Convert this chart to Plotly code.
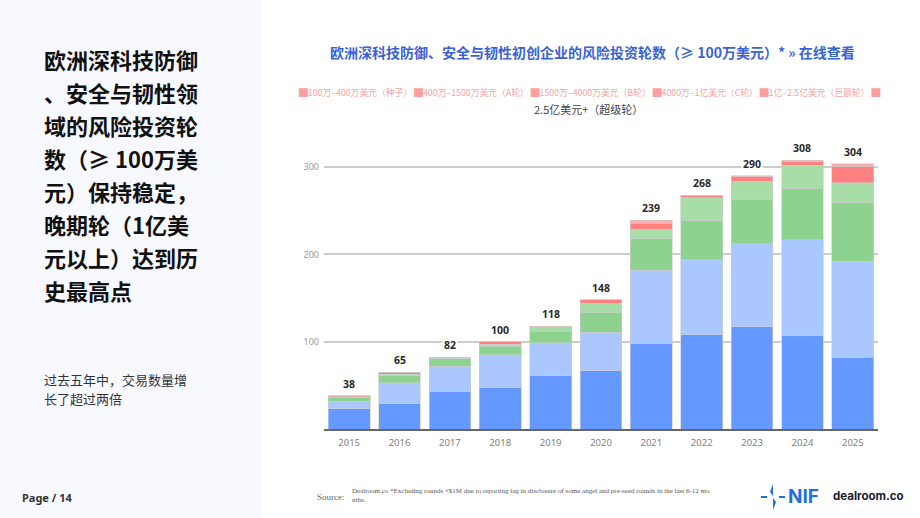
import plotly.graph_objects as go

years = ["2015", "2016", "2017", "2018", "2019", "2020", "2021", "2022", "2023", "2024", "2025"]
seed = [23, 29, 43, 47, 61, 67, 98, 108, 117, 107, 82]
series_a = [9, 24, 29, 38, 38, 44, 84, 86, 95, 110, 110]
series_b = [4, 8, 9, 9, 13, 22, 36, 45, 51, 59, 68]
series_c = [1, 2, 1, 3, 5, 11, 11, 26, 21, 26, 22]
mega = [1, 2, 0, 3, 1, 4, 7, 2, 5, 4, 19]
super_r = [0, 0, 0, 0, 0, 0, 3, 1, 1, 2, 3]
totals = [38, 65, 82, 100, 118, 148, 239, 268, 290, 308, 304]
series_names = ["100万–400万美元（种子）", "400万–1500万美元（A轮）", "1500万–4000万美元（B轮）",
                "4000万–1亿美元（C轮）", "1亿–2.5亿美元（巨额轮）", "2.5亿美元+（超级轮）"]
colors = ["#6699FF", "#AAC8FF", "#8DD38F", "#A8DDA8", "#FF8080", "#FFABAB"]
y_ticks = [100, 200, 300]

CJK = "Noto Sans CJK SC, Noto Sans, sans-serif"

fig = go.Figure()
for vals, name, col in zip([seed, series_a, series_b, series_c, mega, super_r], series_names, colors):
    fig.add_trace(go.Bar(x=years, y=vals, name=name,
                         marker=dict(color=col, line=dict(color="rgba(205,205,205,0.6)", width=1)),
                         showlegend=False, hoverinfo="x+y+name"))

for i, t in enumerate(totals):
    fig.add_annotation(x=i, y=t, text=f"<b>{t}</b>", showarrow=False, yanchor="bottom", yshift=3,
                       font=dict(family="Noto Sans, sans-serif", size=10.5, color="#2a2a2a"), bgcolor="white",
                       borderpad=1, xref="x", yref="y")

W, H = 920, 518
def px(x): return x / W
def py(y): return 1 - y / H

fig.update_layout(
    width=W, height=H, margin=dict(l=0, r=0, t=0, b=0),
    paper_bgcolor="white", plot_bgcolor="white", barmode="stack", bargap=0.17,
    xaxis=dict(type="category", categoryorder="array", categoryarray=years, range=[-0.5, len(years) - 0.5],
               domain=[px(324), px(878)], showgrid=False, showline=True, linecolor="#666",
               linewidth=2, ticklabelstandoff=4,
               tickfont=dict(family="Noto Sans, sans-serif", size=9.5, color="#808080"), ticks=""),
    yaxis=dict(domain=[py(429), py(141)], range=[0, 330], tickvals=y_ticks, showgrid=True, gridcolor="#CCCCCC",
               gridwidth=1.5, zeroline=False, showline=False, ticks="", ticklabelstandoff=4,
               tickfont=dict(family="Noto Sans, sans-serif", size=9, color="#999")),
    font=dict(family=CJK),
)

# left panel background
fig.add_shape(type="rect", xref="paper", yref="paper", x0=0, x1=px(262), y0=0, y1=1,
              fillcolor="#F8F9FE", line=dict(width=0), layer="below")

left_title = ["欧洲深科技防御", "、安全与韧性领", "域的风险投资轮", "数（≥ 100万美", "元）保持稳定，",
              "晚期轮（1亿美", "元以上）达到历", "史最高点"]
for i, line in enumerate(left_title):
    fig.add_annotation(xref="paper", yref="paper", x=px(42), y=py(59 + i * 33), xanchor="left", yanchor="middle",
                       text=f"<b>{line}</b>", align="left", showarrow=False,
                       font=dict(family=CJK, size=22, color="#111"))
for i, line in enumerate(["过去五年中，交易数量增", "长了超过两倍"]):
    fig.add_annotation(xref="paper", yref="paper", x=px(42), y=py(379 + i * 19), xanchor="left", yanchor="middle",
                       text=line, align="left", showarrow=False,
                       font=dict(family=CJK, size=13, color="#333"))
fig.add_annotation(xref="paper", yref="paper", x=px(20), y=py(497), xanchor="left", yanchor="middle",
                   text="<b>Page / 14</b>", showarrow=False,
                   font=dict(family="Noto Sans, sans-serif", size=11, color="#333"))

# chart title
fig.add_annotation(xref="paper", yref="paper", x=px(592), y=py(52), xanchor="center", yanchor="middle",
                   text="<b>欧洲深科技防御、安全与韧性初创企业的风险投资轮数（≥ 100万美元）* » 在线查看</b>",
                   showarrow=False, font=dict(family=CJK, size=14, color="#3A62D8"))

# legend (custom)
leg_text = "".join(f"<span style='color:#FF9E9E'>█</span>{n} " for n in series_names[:5]) + "<span style='color:#FF9E9E'>█</span>"
fig.add_annotation(xref="paper", yref="paper", x=px(590), y=py(93), xanchor="center", yanchor="middle",
                   text=leg_text, showarrow=False, font=dict(family=CJK, size=8.8, color="#F4A3A3"))
fig.add_annotation(xref="paper", yref="paper", x=px(588), y=py(109), xanchor="center", yanchor="middle",
                   text=series_names[5], showarrow=False, font=dict(family=CJK, size=11, color="#444"))

# footer
fig.add_annotation(xref="paper", yref="paper", x=px(315), y=py(497), xanchor="left", yanchor="middle",
                   text="Source:", showarrow=False,
                   font=dict(family="Liberation Serif, serif", size=9, color="#666"))
fig.add_annotation(xref="paper", yref="paper", x=px(350), y=py(491), xanchor="left", yanchor="middle",
                   text="Dealroom.co *Excluding rounds <$1M due to reporting lag in disclosure of some angel and pre-seed rounds in the last 6-12 mo",
                   showarrow=False, font=dict(family="Liberation Serif, serif", size=7, color="#555"))
fig.add_annotation(xref="paper", yref="paper", x=px(350), y=py(500), xanchor="left", yanchor="middle",
                   text="nths.", showarrow=False, font=dict(family="Liberation Serif, serif", size=7, color="#555"))

# NIF logo
fig.add_shape(type="path", xref="paper", yref="paper",
              path=f"M {px(773)} {py(484)} L {px(770)} {py(492)} L {px(773)} {py(496)} Z", fillcolor="#1E6FE0", line=dict(width=0))
fig.add_shape(type="path", xref="paper", yref="paper",
              path=f"M {px(773)} {py(498)} L {px(776)} {py(502)} L {px(773)} {py(510)} Z", fillcolor="#1E6FE0", line=dict(width=0))
fig.add_shape(type="line", xref="paper", yref="paper", x0=px(761), x1=px(767), y0=py(497), y1=py(497),
              line=dict(color="#1E6FE0", width=2))
fig.add_shape(type="line", xref="paper", yref="paper", x0=px(779), x1=px(785), y0=py(497), y1=py(497),
              line=dict(color="#1E6FE0", width=2))
fig.add_annotation(xref="paper", yref="paper", x=px(786), y=py(496), xanchor="left", yanchor="middle",
                   text="<b>NIF</b>", showarrow=False, font=dict(family="Inter, Noto Sans, sans-serif", size=19, color="#1E6FE0"))
fig.add_annotation(xref="paper", yref="paper", x=px(831), y=py(496), xanchor="left", yanchor="middle",
                   text="<b>dealroom.co</b>", showarrow=False, font=dict(family="Inter, Noto Sans, sans-serif", size=11.5, color="#1A1A2E"))

fig.write_html("out.html")
